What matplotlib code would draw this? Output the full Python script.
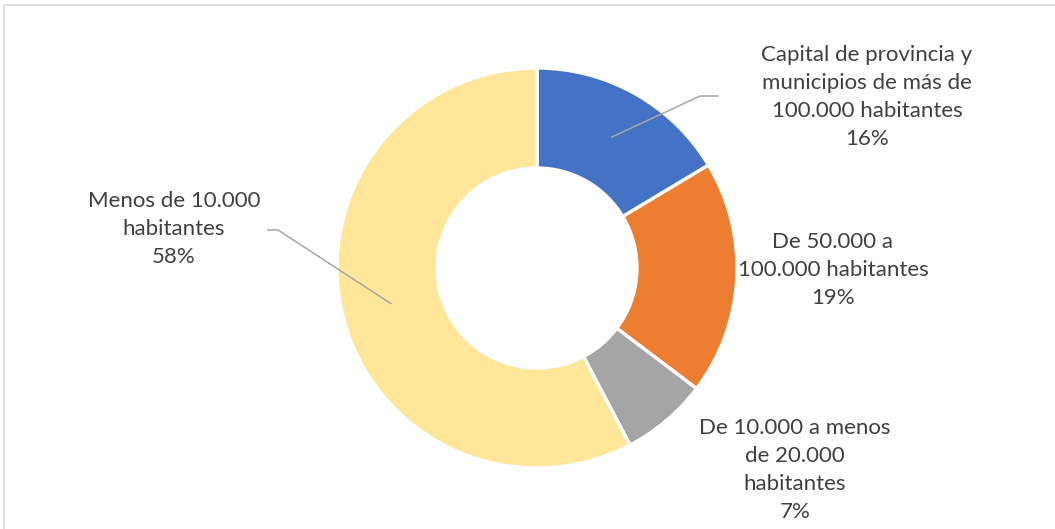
import matplotlib

matplotlib.use("Agg")

import matplotlib.pyplot as plt
import numpy as np

# Share of population by municipality size (clockwise from 12 o'clock)
categories = [
    "Capital de provincia y\nmunicipios de más de\n100.000 habitantes",
    "De 50.000 a\n100.000 habitantes",
    "De 10.000 a menos\nde 20.000\nhabitantes",
    "Menos de 10.000\nhabitantes",
]
shares = [16.4, 18.9, 7.0, 57.7]
colors = ["#4472C4", "#ED7D31", "#A5A5A5", "#FFE699"]

# label anchor (pixel space, y from top) and leader end point, if any
label_pos = [(867, 97), (833, 270), (795, 470), (174, 229)]
leader = [(718, 96), None, None, (267, 230)]

W, H = 1055, 529
INK = "#404040"
LINE = "#A6A6A6"
FRAME = "#D9D9D9"

plt.rcParams["font.family"] = ["Lato", "DejaVu Sans"]

fig = plt.figure(figsize=(W / 100, H / 100), dpi=100)
ax = fig.add_axes([0, 0, 1, 1])

cx, cy, r_out = 537, H - 268, 200
ax.pie(
    shares, colors=colors, startangle=90, counterclock=False,
    center=(cx, cy), radius=r_out, frame=True,
    wedgeprops=dict(width=r_out / 2, edgecolor="white", linewidth=2.4),
)
ax.set_xlim(0, W)
ax.set_ylim(0, H)
ax.set_aspect("equal")
ax.axis("off")

# data labels
total = sum(shares)
cum = np.cumsum([0] + shares)
for i, (name, val) in enumerate(zip(categories, shares)):
    x, y = label_pos[i]
    ax.text(x, H - y, f"{name}\n{val / total:.0%}", ha="center", va="center",
            fontsize=16, color=INK, linespacing=1.52)
    if leader[i] is None:
        continue
    # leader from mid-ring of the wedge to a short elbow next to the label
    mid = (cum[i] + cum[i + 1]) / 2 / total * 2 * np.pi
    sx = cx + 0.75 * r_out * np.sin(mid)
    sy = cy + 0.75 * r_out * np.cos(mid)
    ex, ey = leader[i]
    elbow_x = ex - 18 if ex > cx else ex + 11
    ax.plot([sx, elbow_x, ex], [sy, H - ey, H - ey], color=LINE, lw=1.1,
            solid_capstyle="butt")

# chart-area border (cut off at right/bottom)
ax.plot([3.5, 3.5, W + 5], [-5, H - 4.5, H - 4.5], color=FRAME, lw=1.2,
        clip_on=False)

fig.savefig("out.png", dpi=100)
